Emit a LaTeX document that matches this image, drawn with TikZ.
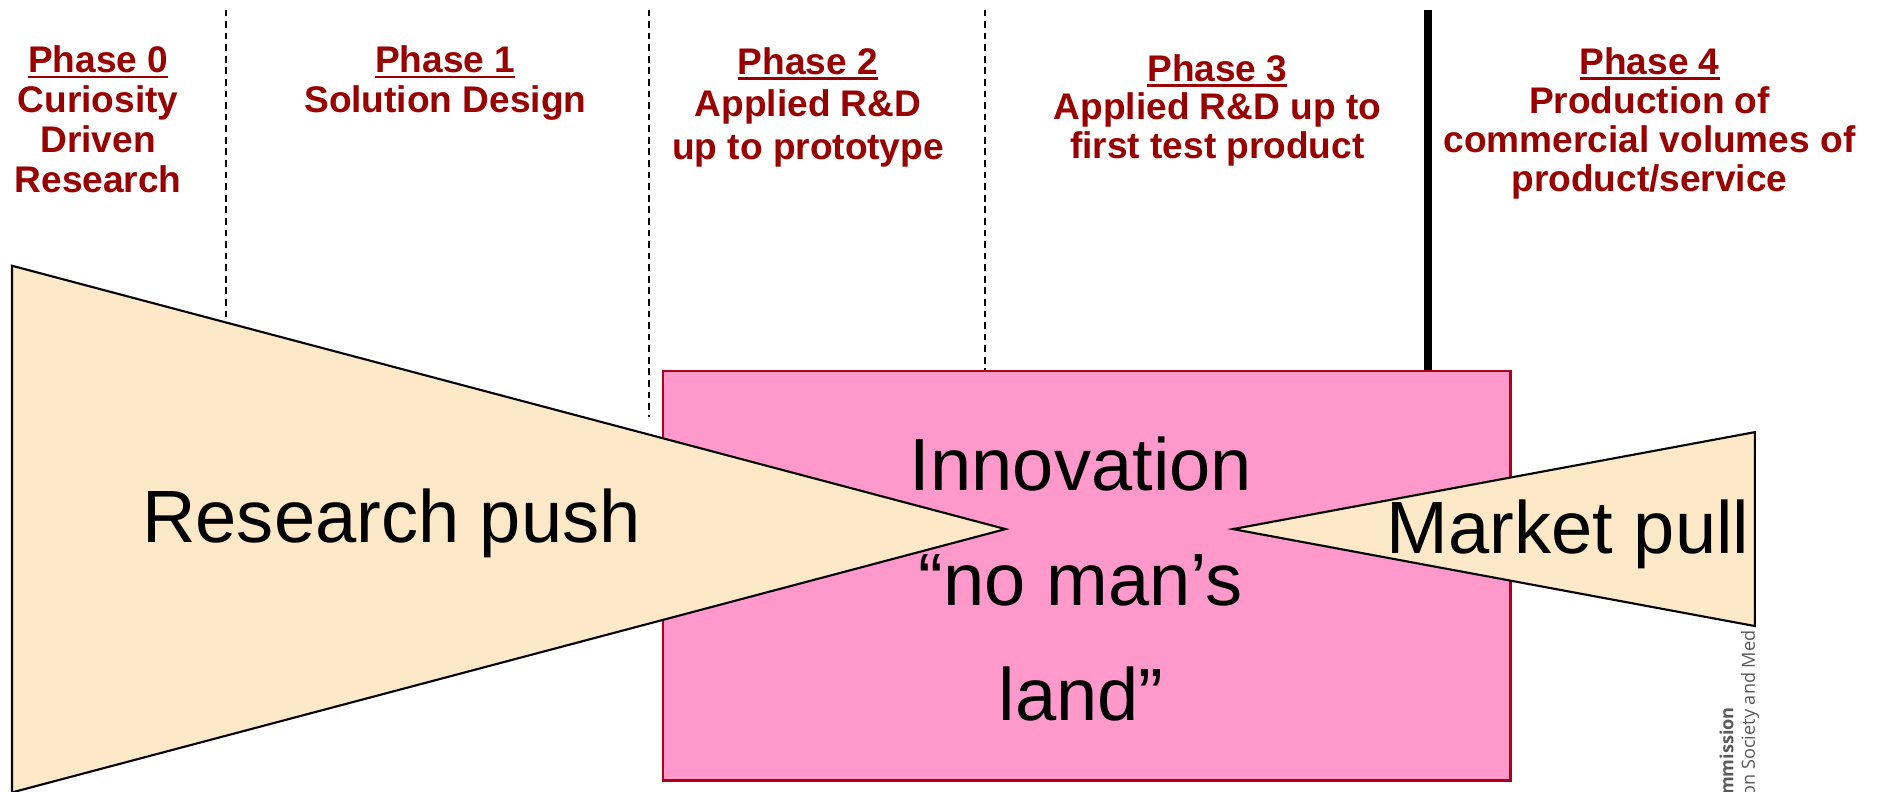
\documentclass[tikz,border=0pt]{standalone}
\usepackage{fontspec}
\setmainfont{Liberation Sans}
\newfontfamily\logofont{Open Sans}
\definecolor{phasered}{RGB}{153,0,0}
\definecolor{gappink}{RGB}{255,153,204}
\definecolor{gapborder}{RGB}{175,0,25}
\definecolor{pushtan}{RGB}{253,232,199}
\definecolor{logogray}{RGB}{90,90,90}
\newcommand{\phasetitle}[1]{\setbox0\hbox{#1}\rlap{\rule[-1.35pt]{\wd0}{0.7pt}}\box0}

\begin{document}
\begin{tikzpicture}[x=0.01cm, y=-0.01cm,
    phase/.style={text=phasered, align=center, inner sep=0pt, anchor=north},
    big/.style={font=\fontsize{17.6}{27.3}\selectfont, inner sep=0pt},
    logo/.style={font=\logofont\fontsize{4.3}{5}\selectfont, text=logogray, inner sep=0pt, rotate=90, anchor=base east}]
    \useasboundingbox (0,0) rectangle (1568,661);
    \clip (0,0) rectangle (1568,661);

    % Phase dividers
    \foreach \x/\y in {189/300, 542/348, 823/310} {
        \draw[line width=0.45pt, dash pattern=on 1.6pt off 1.15pt] (\x,8) -- (\x,\y);
    }
    \draw[line width=1.8pt] (1193,8) -- (1193,310);

    % Phase headings
    \foreach \n/\x/\y/\sk/\desc in {0/82/37.7/9.45/{Curiosity\\Driven\\Research}, 1/372/37.7/9.45/{Solution Design}, 2/675/39/10.1/{Applied R\&D\\up to prototype}, 3/1017/44.7/9.2/{Applied R\&D up to\\first test product}, 4/1378/38.7/9.3/{Production of\\commercial volumes of\\product/service}} {
        \node[phase, font=\fontsize{8.8}{\sk}\selectfont\bfseries] (phase\n) at (\x,\y) {\phasetitle{Phase \n}\\\desc};
    }

    % No man's land
    \filldraw[fill=gappink, draw=gapborder, line width=0.6pt] (554,310) rectangle (1262,652);

    % Logo remnant
    \node[logo, font=\logofont\fontsize{4.3}{5}\selectfont\bfseries] (ecname) at (1448,590) {ommission};
    \node[logo] (ecdg) at (1466,526) {on Society and Med};

    % Push and pull wedges
    \filldraw[fill=pushtan, draw=black, line width=0.5pt] (10,222) -- (840,442) -- (10,662) -- cycle;
    \filldraw[fill=pushtan, draw=black, line width=0.5pt] (1030,442) -- (1466,361) -- (1466,523) -- cycle;

    % Labels
    \node[big, anchor=base] (push) at (327,453) {Research push};
    \node[big, anchor=base] (pull) at (1310,462) {Market pull};
    \node[big, anchor=north, align=center] (gap) at (903,364.6) {Innovation\\“no man’s\\land”};
\end{tikzpicture}
\end{document}
